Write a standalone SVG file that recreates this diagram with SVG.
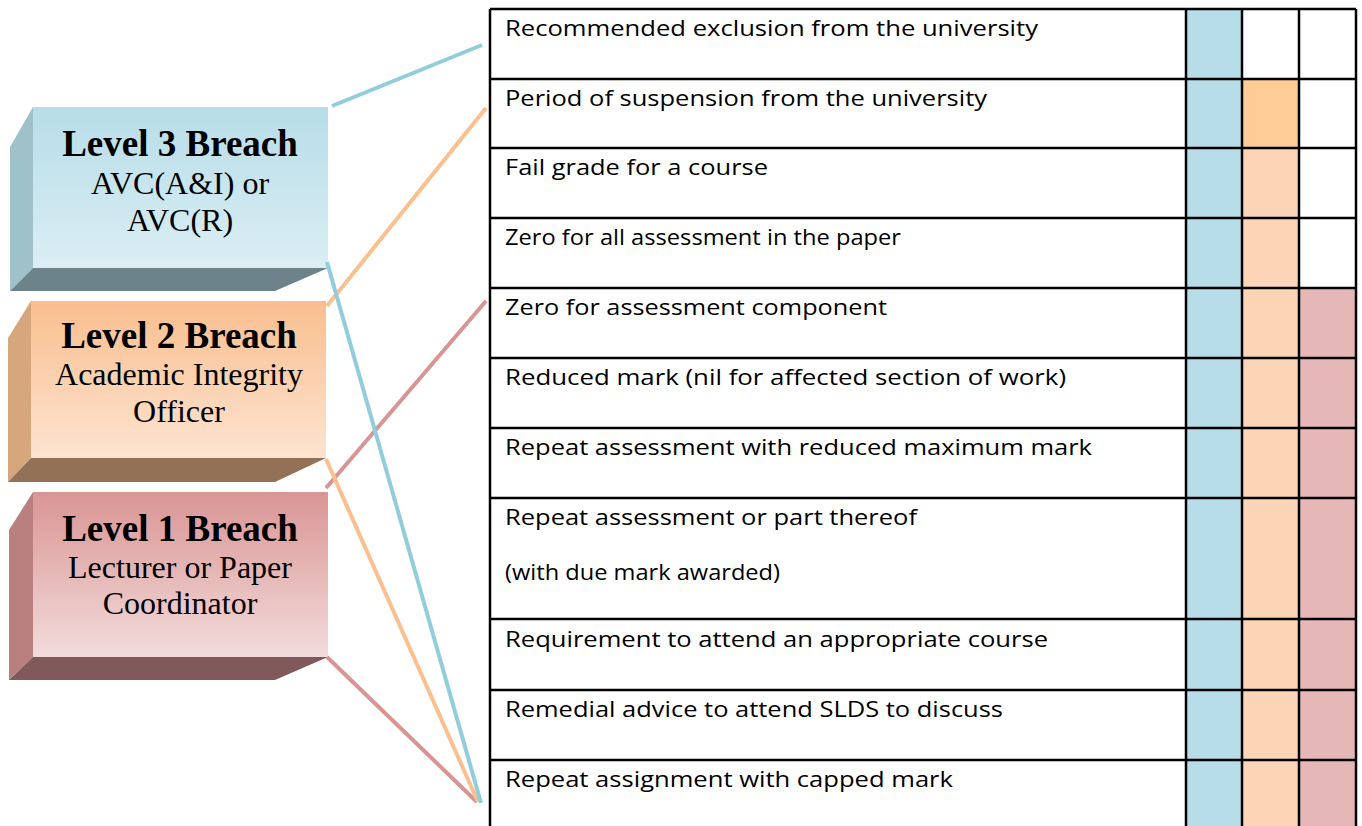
<svg xmlns="http://www.w3.org/2000/svg" width="1362" height="826" viewBox="0 0 1362 826">
<style>
.t{font-family:"Open Sans","Liberation Sans",sans-serif;font-size:22px;fill:#000}
.h{font-family:"Liberation Serif","Times New Roman",serif;font-size:37px;font-weight:bold;fill:#000;text-anchor:middle}
.s{font-family:"Liberation Serif","Times New Roman",serif;font-size:32px;fill:#000;text-anchor:middle}
.grid{stroke:#000;stroke-width:2.5;fill:none}
.c{stroke-width:4;fill:none}
</style>
<defs>
<linearGradient id="g3" x1="0" y1="0" x2="0" y2="1"><stop offset="0" stop-color="#B7DDE8"/><stop offset="1" stop-color="#DBEEF4"/></linearGradient>
<linearGradient id="g2" x1="0" y1="0" x2="0" y2="1"><stop offset="0" stop-color="#F9BE8E"/><stop offset="1" stop-color="#FDE4D1"/></linearGradient>
<linearGradient id="g1" x1="0" y1="0" x2="0" y2="1"><stop offset="0" stop-color="#D99594"/><stop offset="1" stop-color="#F2DCDB"/></linearGradient>
</defs>
<rect width="1362" height="826" fill="#fff"/>
<g id="table">
<rect x="1186" y="9" width="56" height="817" fill="#B7DDE8"/>
<rect x="1242" y="79" width="57" height="69" fill="#FFCB97"/>
<rect x="1242" y="148" width="57" height="678" fill="#FBD5B5"/>
<rect x="1299" y="288" width="57" height="538" fill="#E5B8B7"/>
<path class="grid" d="M490 9V830M1186 9V830M1242 9V830M1299 9V830M1356 9V830M490 9H1356M490 79H1356M490 148H1356M490 218H1356M490 288H1356M490 358H1356M490 428H1356M490 498H1356M490 619H1356M490 690H1356M490 760H1356"/>
<text class="t" x="505" y="36" textLength="533" lengthAdjust="spacingAndGlyphs">Recommended exclusion from the university</text>
<text class="t" x="505" y="106" textLength="482" lengthAdjust="spacingAndGlyphs">Period of suspension from the university</text>
<text class="t" x="505" y="175" textLength="263" lengthAdjust="spacingAndGlyphs">Fail grade for a course</text>
<text class="t" x="505" y="245" textLength="396" lengthAdjust="spacingAndGlyphs">Zero for all assessment in the paper</text>
<text class="t" x="505" y="315" textLength="382" lengthAdjust="spacingAndGlyphs">Zero for assessment component</text>
<text class="t" x="505" y="385" textLength="561" lengthAdjust="spacingAndGlyphs">Reduced mark (nil for affected section of work)</text>
<text class="t" x="505" y="455" textLength="587" lengthAdjust="spacingAndGlyphs">Repeat assessment with reduced maximum mark</text>
<text class="t" x="505" y="525" textLength="412" lengthAdjust="spacingAndGlyphs">Repeat assessment or part thereof</text>
<text class="t" x="505" y="580" textLength="275" lengthAdjust="spacingAndGlyphs">(with due mark awarded)</text>
<text class="t" x="505" y="647" textLength="543" lengthAdjust="spacingAndGlyphs">Requirement to attend an appropriate course</text>
<text class="t" x="505" y="717" textLength="498" lengthAdjust="spacingAndGlyphs">Remedial advice to attend SLDS to discuss</text>
<text class="t" x="505" y="787" textLength="448" lengthAdjust="spacingAndGlyphs">Repeat assignment with capped mark</text>
</g>
<g id="level3">
<polygon points="10,147 33,107 33,268 10,291" fill="#9EC1CA"/>
<polygon points="10,291 33,268 328,268 275,291" fill="#6D838A"/>
<rect x="33" y="107" width="295" height="161" fill="url(#g3)"/>
<text class="h" x="180" y="156">Level 3 Breach</text>
<text class="s" x="180" y="194">AVC(A&amp;I) or</text>
<text class="s" x="180" y="231">AVC(R)</text>
</g>
<g id="level2">
<polygon points="8,338 31,301 31,458 8,482" fill="#D6A67C"/>
<polygon points="8,482 31,458 326,458 275,482" fill="#937156"/>
<rect x="31" y="301" width="295" height="157" fill="url(#g2)"/>
<text class="h" x="179" y="348">Level 2 Breach</text>
<text class="s" x="179" y="385">Academic Integrity</text>
<text class="s" x="179" y="422">Officer</text>
</g>
<g id="level1">
<polygon points="9,530 33,492 33,657 9,680" fill="#BA8080"/>
<polygon points="9,680 33,657 328,657 275,680" fill="#805A5A"/>
<rect x="33" y="492" width="295" height="165" fill="url(#g1)"/>
<text class="h" x="180" y="541">Level 1 Breach</text>
<text class="s" x="180" y="578">Lecturer or Paper</text>
<text class="s" x="180" y="614">Coordinator</text>
</g>
<g id="connectors">
<line class="c" stroke="#92CDDC" x1="332" y1="106" x2="482" y2="45"/>
<line class="c" stroke="#FAC090" x1="327" y1="306" x2="486" y2="108"/>
<line class="c" stroke="#D99594" x1="326" y1="488" x2="486" y2="301"/>
<line class="c" stroke="#D99594" x1="327" y1="657" x2="477" y2="802"/>
<line class="c" stroke="#FAC090" x1="326" y1="459" x2="478" y2="802"/>
<line class="c" stroke="#92CDDC" x1="327" y1="262" x2="481" y2="803"/>
</g>
</svg>
